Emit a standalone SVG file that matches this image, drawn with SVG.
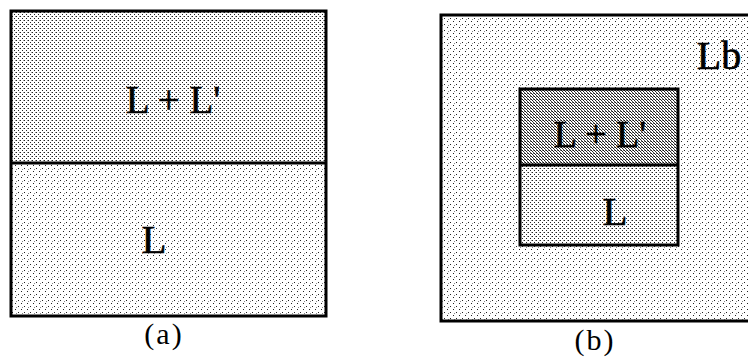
<svg xmlns="http://www.w3.org/2000/svg" width="748" height="360" viewBox="0 0 748 360">
<defs>
<pattern id="pLight" width="6" height="6" patternUnits="userSpaceOnUse">
<rect width="6" height="6" fill="#fff"/>
<rect x="0" y="0" width="1" height="1" fill="#222"/>
<rect x="3" y="3" width="1" height="1" fill="#222"/>
<rect x="4" y="1" width="1" height="1" fill="#888"/>
</pattern>
<pattern id="pMed" width="4" height="4" patternUnits="userSpaceOnUse">
<rect width="4" height="4" fill="#fff"/>
<rect x="0" y="0" width="1" height="1" fill="#222"/>
<rect x="2" y="2" width="1" height="1" fill="#222"/>
<rect x="3" y="0" width="1" height="1" fill="#999"/>
</pattern>
<pattern id="pDark" width="3" height="3" patternUnits="userSpaceOnUse">
<rect width="3" height="3" fill="#fff"/>
<rect x="0" y="0" width="1" height="1" fill="#111"/>
<rect x="1" y="1" width="1" height="1" fill="#222"/>
<rect x="2" y="2" width="1" height="1" fill="#444"/>
<rect x="2" y="0" width="1" height="1" fill="#777"/>
</pattern>
</defs>
<style>
.frame{stroke:#000;stroke-width:3}
.lbl{font-family:"Liberation Serif","Times New Roman",serif;fill:#000;stroke:#000;stroke-width:0.6;text-anchor:middle}
.cap{font-family:"Liberation Serif","Times New Roman",serif;fill:#000;text-anchor:middle;font-size:30px;letter-spacing:2px}
</style>
<rect width="748" height="360" fill="#fff"/>
<g id="panel-a">
<g id="a-top">
<rect x="11" y="11" width="315" height="152" fill="url(#pMed)"/>
<text class="lbl" x="173" y="113" font-size="39">L + L'</text>
</g>
<g id="a-bottom">
<rect x="11" y="163" width="315" height="153" fill="url(#pLight)"/>
<text class="lbl" x="154" y="253" font-size="41">L</text>
</g>
<rect class="frame" x="11" y="11" width="315" height="305" fill="none"/>
<line class="frame" x1="11" y1="163" x2="326" y2="163"/>
<text class="cap" x="164" y="344">(a)</text>
</g>
<g id="panel-b">
<g id="Lb">
<rect x="441" y="15" width="310" height="306" fill="url(#pLight)"/>
<rect class="frame" x="441" y="15" width="310" height="306" fill="none"/>
<text class="lbl" x="719" y="69" font-size="40">Lb</text>
</g>
<g id="b-top">
<rect x="520" y="89" width="158" height="76" fill="url(#pDark)"/>
<text class="lbl" x="600" y="147" font-size="38">L + L'</text>
</g>
<g id="b-bottom">
<rect x="520" y="165" width="158" height="80" fill="url(#pMed)"/>
<text class="lbl" x="615" y="225" font-size="41">L</text>
</g>
<rect class="frame" x="520" y="89" width="158" height="156" fill="none"/>
<line class="frame" x1="520" y1="165" x2="678" y2="165"/>
<text class="cap" x="595" y="350">(b)</text>
</g>
</svg>
